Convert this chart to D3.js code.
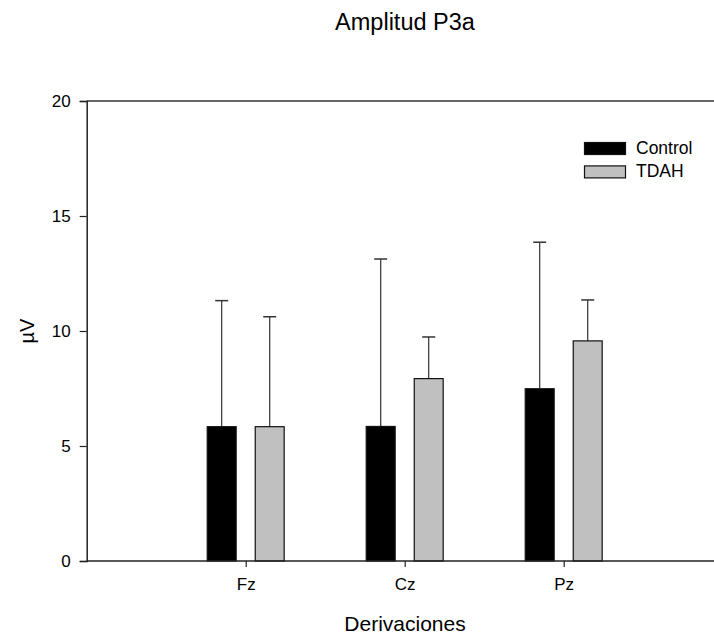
<!DOCTYPE html>
<html>
<head>
<meta charset="utf-8">
<script src="https://cdn.jsdelivr.net/npm/d3@7"></script>
<style>
  body { margin: 0; background: #fff; }
  svg text { font-family: "Liberation Sans", Arial, sans-serif; fill: #000; }
</style>
</head>
<body>
<div id="chart"></div>
<script>
const categories = ['Fz', 'Cz', 'Pz'];
const groups = ['Control', 'TDAH'];
const controlMean = [5.84, 5.85, 7.49];
const controlSd = [5.48, 7.28, 6.37];
const tdahMean = [5.84, 7.93, 9.57];
const tdahSd = [4.78, 1.81, 1.78];
const yTicks = [0, 5, 10, 15, 20];

const W = 714, H = 634;
const plotLeft = 86.7, plotTop = 101, plotBottom = 561;
const unit = 159; // px per category step

const svg = d3.select('#chart').append('svg')
  .attr('width', W)
  .attr('height', H);

const x = d3.scaleLinear().domain([0, 4]).range([plotLeft, plotLeft + 4 * unit]);
const y = d3.scaleLinear().domain([0, 20]).range([plotBottom, plotTop]);

const barW = 0.182;   // in category units
const offset = 0.151;

const series = [
  { name: groups[0], mean: controlMean, sd: controlSd, fill: '#000', dx: -offset },
  { name: groups[1], mean: tdahMean, sd: tdahSd, fill: '#c0c0c0', dx: offset }
];

// error bars (upper only)
series.forEach((s) => {
  const g = svg.append('g');
  const cx = (i) => x(i + 1 + s.dx);
  g.selectAll('line.err')
    .data(s.mean)
    .join('line')
    .attr('class', 'err')
    .attr('x1', (d, i) => cx(i))
    .attr('x2', (d, i) => cx(i))
    .attr('y1', d => y(d))
    .attr('y2', (d, i) => y(d + s.sd[i]))
    .attr('stroke', '#333')
    .attr('stroke-width', 1.2);
  g.selectAll('line.cap')
    .data(s.mean)
    .join('line')
    .attr('class', 'cap')
    .attr('x1', (d, i) => cx(i) - 6.5)
    .attr('x2', (d, i) => cx(i) + 6.5)
    .attr('y1', (d, i) => y(d + s.sd[i]))
    .attr('y2', (d, i) => y(d + s.sd[i]))
    .attr('stroke', '#333')
    .attr('stroke-width', 1.5);
});

// bars
series.forEach((s) => {
  svg.append('g').selectAll('rect')
    .data(s.mean)
    .join('rect')
    .attr('x', (d, i) => x(i + 1 + s.dx - barW / 2))
    .attr('width', x(barW) - x(0))
    .attr('y', d => y(d))
    .attr('height', d => y(0) - y(d))
    .attr('fill', s.fill)
    .attr('stroke', '#111')
    .attr('stroke-width', 1.2);
});

// frame (top line, right side is off the canvas)
svg.append('line')
  .attr('x1', plotLeft).attr('x2', W)
  .attr('y1', plotTop).attr('y2', plotTop)
  .attr('stroke', '#333').attr('stroke-width', 1.5);

// axes
const yAxis = svg.append('g')
  .attr('transform', `translate(${plotLeft},0)`)
  .call(d3.axisLeft(y).tickValues(yTicks).tickSize(7).tickPadding(9));

const xAxis = svg.append('g')
  .attr('transform', `translate(0,${plotBottom})`)
  .call(d3.axisBottom(x).tickValues([1, 2, 3]).tickFormat(d => categories[d - 1]).tickSize(6).tickPadding(11));

[yAxis, xAxis].forEach((a) => {
  a.select('.domain').attr('stroke', '#222').attr('stroke-width', 1.5);
  a.selectAll('.tick line').attr('stroke', '#222').attr('stroke-width', 1.2);
  a.selectAll('.tick text')
    .style('font-family', '"Liberation Sans", Arial, sans-serif')
    .style('font-size', '17px')
    .attr('fill', '#000');
});
xAxis.select('.domain').attr('d', `M${plotLeft},0H${W}`);

// titles
svg.append('text')
  .attr('x', 405)
  .attr('y', 29.5)
  .attr('text-anchor', 'middle')
  .style('font-size', '23.5px')
  .text('Amplitud P3a');

svg.append('text')
  .attr('x', 405)
  .attr('y', 631)
  .attr('text-anchor', 'middle')
  .style('font-size', '21px')
  .text('Derivaciones');

svg.append('text')
  .attr('transform', 'translate(34,331) rotate(-90)')
  .attr('text-anchor', 'middle')
  .style('font-size', '20px')
  .text('µV');

// legend
const legend = svg.append('g');
series.forEach((s, i) => {
  legend.append('rect')
    .attr('x', 584.5)
    .attr('y', 142.5 + i * 23.4)
    .attr('width', 41)
    .attr('height', 12)
    .attr('fill', s.fill)
    .attr('stroke', '#111')
    .attr('stroke-width', 1.2);
  legend.append('text')
    .attr('x', 636)
    .attr('y', 154 + i * 23.4)
    .style('font-size', '17.5px')
    .text(s.name);
});
</script>
</body>
</html>
